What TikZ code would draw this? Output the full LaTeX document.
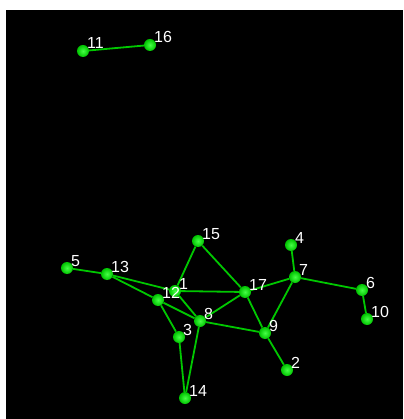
\documentclass[tikz,border=0pt]{standalone}
\usepackage{fontspec}
\setsansfont{Liberation Sans}
\usepackage{tikz}

\definecolor{edgegreen}{RGB}{0,200,0}
\definecolor{ballout}{RGB}{0,195,0}
\definecolor{ballin}{RGB}{70,255,70}

\tikzset{
  ball/.style={circle,inner sep=0pt,minimum size=12pt,inner color=ballin,outer color=ballout},
  edge/.style={draw=edgegreen,line width=1.8pt},
  lbl/.style={text=white,font=\sffamily\fontsize{16}{16}\selectfont,anchor=base west,inner sep=0pt,xshift=4pt,yshift=2pt}
}

\begin{document}
\begin{tikzpicture}[x=1pt,y=-1pt]
\fill[white] (0,0) rectangle (403,419);
\fill[black] (6,10) rectangle (403,419);
\useasboundingbox (0,0) rectangle (403,419);
% nodes
\foreach \n/\x/\y in {1/175/291,2/287/370,3/179/337,4/291/245,5/67/268,6/362/290,
  7/295/277,8/200/321,9/265/333,10/367/319,11/83/51,12/158/300,13/107/274,
  14/185/398,15/198/241,16/150/45,17/245/292}
  \node[ball] (n\n) at (\x,\y) {};
% connectors
\foreach \a/\b in {11/16,5/13,13/12,13/1,15/1,15/17,1/17,1/8,12/8,12/3,
  3/14,8/14,8/17,8/9,17/9,17/7,7/9,7/4,7/6,6/10,9/2}
  \draw[edge] (n\a) -- (n\b);
% labels
\foreach \n in {1,...,17}
  \node[lbl] at (n\n) {\n};
\end{tikzpicture}
\end{document}
